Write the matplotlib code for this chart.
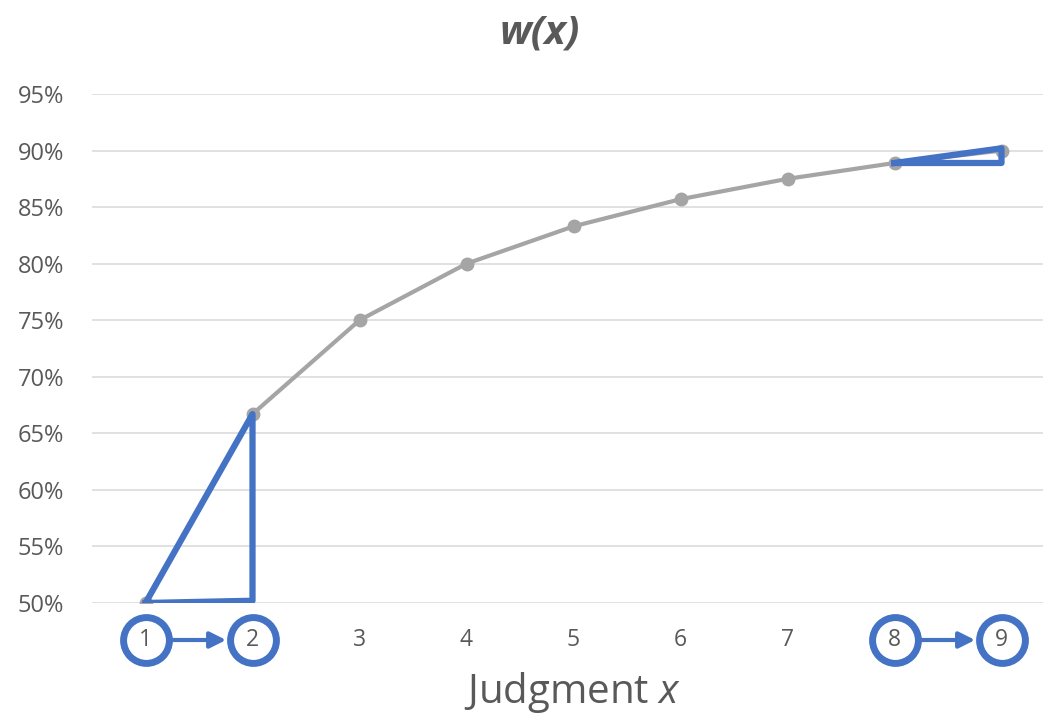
import matplotlib.pyplot as plt
from matplotlib.transforms import blended_transform_factory

# w(x) for each judgment value
judgments = [1, 2, 3, 4, 5, 6, 7, 8, 9]
weights = [0.500, 0.667, 0.750, 0.800, 0.833, 0.857, 0.875, 0.889, 0.900]
y_ticks = [0.50, 0.55, 0.60, 0.65, 0.70, 0.75, 0.80, 0.85, 0.90, 0.95]

# step triangles highlighting the change from 1->2 and from 8->9
tri_low_x = [1, 2, 2, 1]
tri_low_y = [0.500, 0.667, 0.502, 0.500]
tri_high_x = [8, 9, 9, 8]
tri_high_y = [0.889, 0.902, 0.889, 0.889]

# circled judgment pairs, arrow goes from the first to the second
circled = [(1, 2), (8, 9)]

GRAY = '#A5A5A5'
BLUE = '#4472C4'
TEXT = '#595959'

plt.rcParams['font.family'] = ['Open Sans', 'DejaVu Sans']
plt.rcParams['mathtext.fontset'] = 'custom'
plt.rcParams['mathtext.it'] = 'Open Sans:italic'

fig = plt.figure(figsize=(10.43, 7.17), dpi=100)
W, H = 1043, 717
left, right, top, bottom = 92, 1055, 94, 603
ax = fig.add_axes([left / W, (H - bottom) / H, (right - left) / W, (bottom - top) / H])

ax.set_xlim(0.5, 9.5)
ax.set_ylim(0.50, 0.95)
ax.set_yticks(y_ticks)
ax.set_yticklabels([f'{v:.0%}' for v in y_ticks])
ax.set_xticks(judgments)
ax.set_xticklabels([str(j) for j in judgments])
ax.grid(axis='y', color='#D9D9D9', linewidth=1.1)
ax.set_axisbelow(True)
for s in ax.spines.values():
    s.set_visible(False)
ax.tick_params(axis='y', length=0, pad=20, labelsize=17, labelcolor=TEXT)
ax.tick_params(axis='x', length=0, pad=18, labelsize=16.5, labelcolor=TEXT)

ax.plot(judgments, weights, color=GRAY, linewidth=3, marker='o',
        markersize=9, zorder=3)

ax.plot(tri_low_x, tri_low_y, color=BLUE, linewidth=4.5, zorder=4,
        solid_joinstyle='round')
ax.plot(tri_high_x, tri_high_y, color=BLUE, linewidth=4.5, zorder=4,
        solid_joinstyle='round')

# circles around tick labels, below the plot area
trans = blended_transform_factory(ax.transData, ax.transAxes)
label_y = -(640 - bottom) / (bottom - top)
for a, b in circled:
    ax.plot([a, b], [label_y, label_y], transform=trans, linestyle='none',
            marker='o', markersize=33, markerfacecolor='none',
            markeredgecolor=BLUE, markeredgewidth=5, clip_on=False)
    ax.annotate('', xy=(b, label_y), xycoords=trans,
                xytext=(a, label_y), textcoords=trans,
                arrowprops=dict(arrowstyle='-|>', color=BLUE, lw=3,
                                mutation_scale=24, shrinkA=19, shrinkB=19))

fig.text(540 / W, 1 - 33 / H, 'w(x)', ha='center', va='center',
         fontsize=29, fontweight='bold', fontstyle='italic', color=TEXT)
fig.text(572 / W, 2 / H, 'Judgment $x$', ha='center', va='bottom',
         fontsize=29, color=TEXT)

fig.savefig('out.png', dpi=100)
